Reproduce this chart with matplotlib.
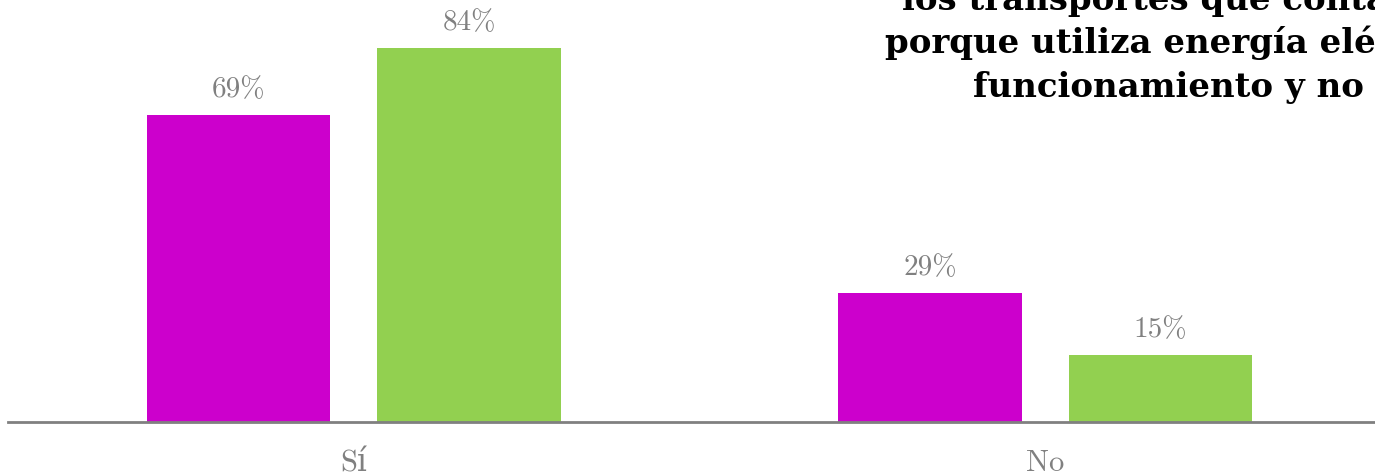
import matplotlib
matplotlib.use("Agg")
import matplotlib.pyplot as plt
import numpy as np

categories = ["Sí", "No"]
series_a = [69, 29]   # magenta
series_b = [84, 15]   # green
title_lines = ["los transportes que contaminan",
               "porque utiliza energía eléctrica",
               "funcionamiento y no contamina"]

MAG = "#CC00CC"
GRN = "#92D050"
GRAY = "#808080"
SERIF = ["cmr10", "DejaVu Serif"]
SERIFB = ["DejaVu Serif"]

W, H = 1375, 475
fig = plt.figure(figsize=(W / 100, H / 100), dpi=100)
ax = fig.add_axes([8 / W, 53 / H, (1391 - 8) / W, 422 / H])

x = np.arange(len(categories))
bw = 0.266
off = 0.1667
bars_a = ax.bar(x - off, series_a, bw, color=MAG, linewidth=0)
bars_b = ax.bar(x + off, series_b, bw, color=GRN, linewidth=0)

for bars, vals in ((bars_a, series_a), (bars_b, series_b)):
    for b, v in zip(bars, vals):
        ax.annotate(f"{v}%", (b.get_x() + b.get_width() / 2, v),
                    xytext=(0, 13), textcoords="offset points",
                    ha="center", va="baseline", fontsize=21,
                    color=GRAY, family=SERIF)

ax.set_xlim(-0.5, 1.5)
ax.set_ylim(0, 94.8)
ax.set_xticks(x)
ax.set_xticklabels(categories, fontsize=22, color=GRAY, family=SERIF)
ax.tick_params(axis="x", length=0, pad=20)
ax.set_yticks([])
for s in ("top", "right", "left"):
    ax.spines[s].set_visible(False)
ax.spines["bottom"].set_color(GRAY)
ax.spines["bottom"].set_linewidth(2)

starts = [902, 885, 973]
baselines = [10, 53, 97]
for t, sx, by in zip(title_lines, starts, baselines):
    fig.text(sx / W, 1 - by / H, t, ha="left", va="baseline",
             fontsize=24.5, fontweight="bold", family=SERIFB, color="black")

fig.savefig("out.png", dpi=100)
